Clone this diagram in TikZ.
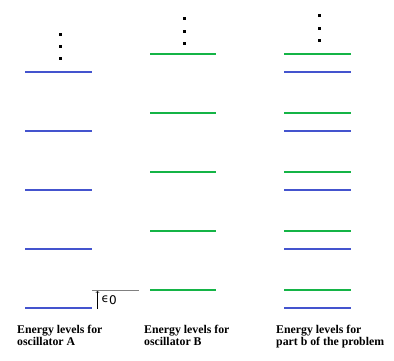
\documentclass[tikz,border=0pt]{standalone}
\usepackage{fontspec}
\setmainfont{Liberation Serif}
\newfontfamily\epsfont{DejaVu Sans}
\definecolor{lvblue}{RGB}{68,84,206}
\definecolor{lvgreen}{RGB}{20,180,70}
\begin{document}
\begin{tikzpicture}[x=1pt,y=-1pt,
  bluelev/.style={draw=lvblue,line width=1.6pt},
  greenlev/.style={draw=lvgreen,line width=1.6pt},
  dotm/.style={fill=black,inner sep=0pt,minimum size=3pt,rectangle},
  caption/.style={anchor=north west,align=left,font=\bfseries\fontsize{11.8}{12}\selectfont,inner sep=0pt}]
\useasboundingbox (0,0) rectangle (394,360);
% column A
\foreach \y in {72,131,190,249,308} \draw[bluelev] (25,\y) -- (92,\y);
\foreach \y in {34,46,58} \node[dotm] at (60,\y) {};
% column B
\foreach \y in {54,113,172,231,290} \draw[greenlev] (150,\y) -- (216,\y);
\foreach \y in {18,31,43} \node[dotm] at (184,\y) {};
% column C
\foreach \y in {54,113,172,231,290} \draw[greenlev] (284,\y) -- (351,\y);
\foreach \y in {72,131,190,249,308} \draw[bluelev] (284,\y) -- (351,\y);
\foreach \y in {15,28,40} \node[dotm] at (319,\y) {};
% epsilon_0 marker
\coordinate (top) at (97.5,291);
\coordinate (bot) at (97.5,309);
\draw[gray,line width=0.8pt] (92,290.5) -- (139,290.5);
\draw[->,>=to,line width=0.5pt] (bot) -- (top);
\node[anchor=west,inner sep=0pt,font=\epsfont\fontsize{12}{12}\selectfont] (eps) at (101.5,300.5) {ϵ\raisebox{-2pt}{0}};
% captions
\node[caption] (ca) at (17,325) {Energy levels for\\oscillator A};
\node[caption] (cb) at (144,325) {Energy levels for\\oscillator B};
\node[caption] (cc) at (276,325) {Energy levels for\\part b of the problem};
\end{tikzpicture}
\end{document}
